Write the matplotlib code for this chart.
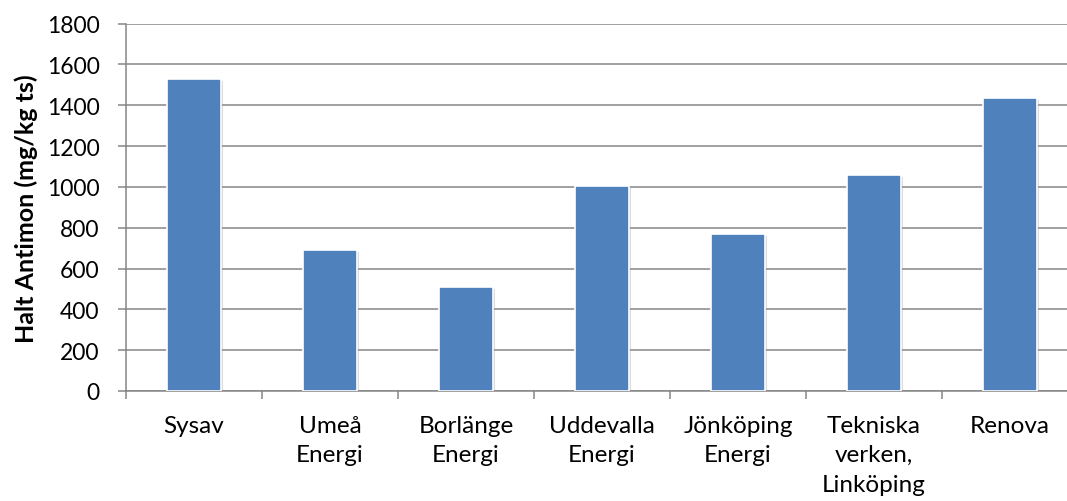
import matplotlib
matplotlib.use("Agg")
import matplotlib.pyplot as plt
import matplotlib.patheffects as pe
import numpy as np

categories = ["Sysav", "Umeå\nEnergi", "Borlänge\nEnergi", "Uddevalla\nEnergi",
              "Jönköping\nEnergi", "Tekniska\nverken,\nLinköping", "Renova"]
values = [1530, 690, 510, 1005, 770, 1060, 1435]
yticks = [0, 200, 400, 600, 800, 1000, 1200, 1400, 1600, 1800]
ylabel = "Halt Antimon (mg/kg ts)"

plt.rcParams["font.family"] = ["Lato", "DejaVu Sans"]

W, H = 1067, 502
fig = plt.figure(figsize=(W / 100, H / 100), dpi=100)
# axes extends a little past the right edge of the canvas
ax = fig.add_axes([126 / W, 110 / H, 952 / W, 367.5 / H])

bar_color = "#4F81BD"
grid_color = "#868686"
x = np.arange(len(categories))
bars = ax.bar(x, values, width=0.39, color=bar_color, edgecolor="white",
              linewidth=1.2, zorder=3)
for b in bars:
    b.set_path_effects([pe.SimplePatchShadow(offset=(1.5, -1.5),
                                             shadow_rgbFace="#999999", alpha=0.35),
                        pe.Normal()])

ax.set_xlim(-0.5, len(categories) - 0.5)
ax.set_ylim(0, 1800)
ax.set_yticks(yticks)
ax.set_yticklabels([str(v) for v in yticks], fontsize=16.5)
ax.yaxis.grid(True, color=grid_color, linewidth=1.1, zorder=0)
ax.set_axisbelow(True)

ax.set_xticks(x)
ax.set_xticklabels(categories, fontsize=17.5, linespacing=1.5, va="top")
ax.set_xticks(np.arange(len(categories) + 1) - 0.5, minor=True)
ax.tick_params(axis="x", which="major", length=0, pad=17)
ax.tick_params(axis="x", which="minor", length=6, width=1.1, color=grid_color)
ax.tick_params(axis="y", length=6, width=1.1, color=grid_color, pad=13)

for side in ("top", "right"):
    ax.spines[side].set_visible(False)
for side in ("left", "bottom"):
    ax.spines[side].set_color(grid_color)
    ax.spines[side].set_linewidth(1.1)

ax.set_ylabel(ylabel, fontsize=18, fontweight="bold", labelpad=6)

fig.savefig("out.png", dpi=100, facecolor="white")
